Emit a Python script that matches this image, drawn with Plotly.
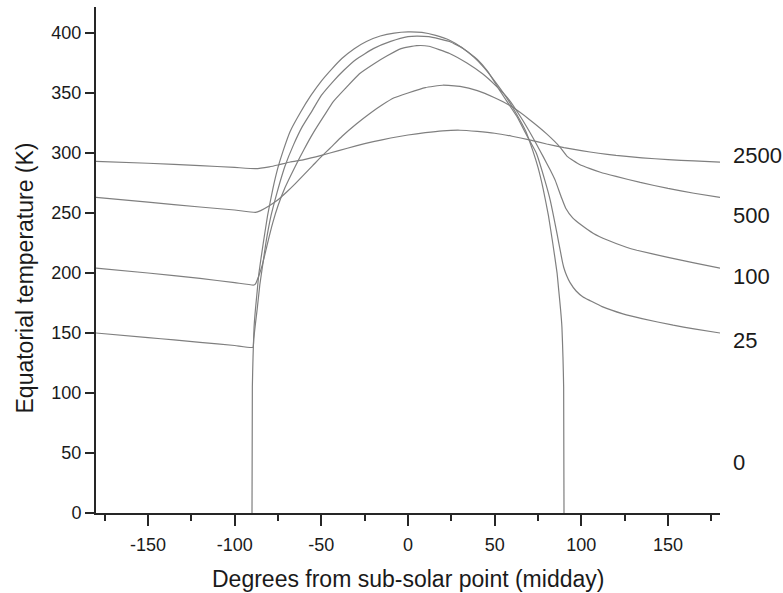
import plotly.graph_objects as go

# ---- data ----
series_labels = ["2500", "500", "100", "25", "0"]

x_2500 = [-180, -150, -120, -100, -88, -80, -75, -68, -60, -50, -40, -30, -20, -10, 0, 10, 20, 30, 40, 50, 60, 70, 80, 90, 100, 110, 120, 135, 150, 165, 180]
t_2500 = [293, 291.5, 289.5, 288, 287, 288.5, 290, 292.5, 294.5, 298, 302, 306, 309.5, 312.5, 315, 317, 318.5, 319, 318, 316.5, 314, 311, 307.5, 304.5, 302, 299.8, 298, 296, 294.5, 293.4, 292.5]

x_500 = [-180, -150, -120, -100, -88, -85, -80, -75, -70, -65, -60, -55, -50, -45, -38, -30, -22, -15, -8, 0, 10, 20, 30, 40, 50, 60, 70, 80, 87.7, 92, 99, 105, 111, 120, 134, 150, 165, 180]
t_500 = [263, 259, 255, 252.5, 250.5, 252, 256, 261, 267.5, 274.5, 282, 289.5, 297, 304, 314, 324, 333, 340, 346, 350, 354.5, 356.5, 355.5, 352, 346, 338.5, 328, 316, 305, 297, 290.5, 287, 284, 280.5, 275.5, 270.5, 266.5, 263]

x_100 = [-180, -150, -120, -100, -89, -88, -86, -84, -81, -78, -75, -71, -65, -60, -55, -48, -43, -36, -28, -20, -12, -4, 5, 12, 24, 34, 43, 50, 58, 65, 72, 78, 82, 85, 88.5, 91, 95, 100, 107, 115, 126, 132, 150, 165, 180]
t_100 = [204, 200, 195.5, 192, 190, 191, 198, 207, 225, 242, 256, 271, 289, 303, 316, 332, 343, 354, 366, 374, 381, 387, 389.5, 389, 383, 375, 366, 357, 345, 330, 313, 297, 286, 277, 263, 254, 246, 240, 233, 227.5, 221.5, 219, 213, 208.5, 204]

x_25 = [-180, -150, -135, -120, -100, -89.5, -89, -88, -87, -85.5, -84, -82, -79, -76.7, -74, -71, -66, -61, -55, -50, -43, -37, -30, -20, -10, 0, 5, 12, 24, 32, 40, 46, 53, 58, 63, 68, 74, 79, 82, 85, 87, 89, 90, 91.5, 93.5, 97, 101, 105, 112, 124, 135, 153, 165, 180]
t_25 = [150, 146.2, 144.2, 142.2, 139.6, 138, 145, 158, 170, 190, 205, 225, 248, 261, 275, 289, 307, 322, 336, 348, 360, 369, 378, 387, 393, 397, 397.5, 397, 393, 387, 378, 368, 352, 341, 330, 316, 300, 277, 261, 240, 225, 210, 204, 198, 192, 185, 180, 177, 172, 166, 162, 156.5, 153.5, 150]

x_0 = [-90, -89.8, -89.4, -88.8, -88, -87, -86, -83.5, -81, -78, -75, -72, -68, -62, -56, -50, -44, -38, -31, -24, -16, -8, 0, 8, 16, 24, 31, 38, 44, 50, 56, 62, 68, 72, 75, 78, 81, 83.5, 86, 87, 88, 88.8, 89.4, 89.8, 90]
t_0 = [0, 105, 130, 155, 170, 185, 200, 225, 248, 270, 288, 302, 318, 334, 348, 360, 370, 379, 387, 393, 397.5, 400, 401, 400.5, 398, 394, 388, 380, 371, 360, 348, 334, 318, 302, 288, 270, 248, 225, 200, 185, 170, 155, 130, 105, 0]

x_major_ticks = [-150, -100, -50, 0, 50, 100, 150]
x_major_text = ["-150", "-100", "-50", "0", "50", "100", "150"]
x_minor_ticks = [-175, -125, -75, -25, 25, 75, 125, 175]
y_ticks = [0, 50, 100, 150, 200, 250, 300, 350, 400]

# label vertical positions (layout, in data units)
label_y = [298, 248, 197, 144, 42.5]

series = [(x_2500, t_2500), (x_500, t_500), (x_100, t_100), (x_25, t_25), (x_0, t_0)]

LINE = "#7f7f7f"
AXIS = "#262626"
TXT = "#1a1a1a"
FONT = "Liberation Sans, Arial, sans-serif"

fig = go.Figure()
for name, (xs, ys) in zip(series_labels, series):
    fig.add_trace(go.Scatter(x=xs, y=ys, mode="lines", name=name,
                             line=dict(color=LINE, width=1.2, shape="spline", smoothing=0.4),
                             showlegend=False, hoverinfo="skip"))

W, H = 783, 593
L, R, T, B = 96, 63, 7, 80

for name, ly in zip(series_labels, label_y):
    fig.add_annotation(x=1.0176, xref="paper", y=ly, yref="y", text=name,
                       showarrow=False, xanchor="left", yanchor="middle",
                       font=dict(family=FONT, size=22, color=TXT))

# axis titles
fig.add_annotation(x=(24 - L) / (W - L - R), xref="paper", y=(513 - 278.5) / (H - T - B), yref="paper",
                   text="Equatorial temperature (K)", textangle=-90, showarrow=False,
                   xanchor="center", yanchor="middle", font=dict(family=FONT, size=23, color=TXT))
fig.add_annotation(x=(407.5 - L) / (W - L - R), xref="paper", y=(513 - 579) / (H - T - B), yref="paper",
                   text="Degrees from sub-solar point (midday)", showarrow=False,
                   xanchor="center", yanchor="middle", font=dict(family=FONT, size=23, color=TXT))

fig.update_layout(
    width=W, height=H,
    margin=dict(l=L, r=R, t=T, b=B, pad=0),
    paper_bgcolor="white", plot_bgcolor="white",
    font=dict(family=FONT, size=18, color=TXT),
    xaxis=dict(range=[-180, 180], tickmode="array", tickvals=x_major_ticks, ticktext=x_major_text,
               ticks="outside", ticklen=11, tickwidth=2, tickcolor=AXIS, ticklabelstandoff=3,
               showline=True, linecolor=AXIS, linewidth=2, showgrid=False, zeroline=False,
               minor=dict(tickmode="array", tickvals=x_minor_ticks, ticks="outside",
                          ticklen=6, tickwidth=2, tickcolor=AXIS, showgrid=False),
               tickfont=dict(family=FONT, size=18, color=TXT)),
    yaxis=dict(range=[0, 421.7], tickmode="array", tickvals=y_ticks,
               ticks="outside", ticklen=9, tickwidth=2, tickcolor=AXIS,
               showline=True, linecolor=AXIS, linewidth=2, showgrid=False, zeroline=False,
               tickfont=dict(family=FONT, size=18, color=TXT)),
)

fig.write_html("out.html", config={"displayModeBar": False},
               post_script="document.body.style.margin='0px';document.body.style.overflow='hidden';")
